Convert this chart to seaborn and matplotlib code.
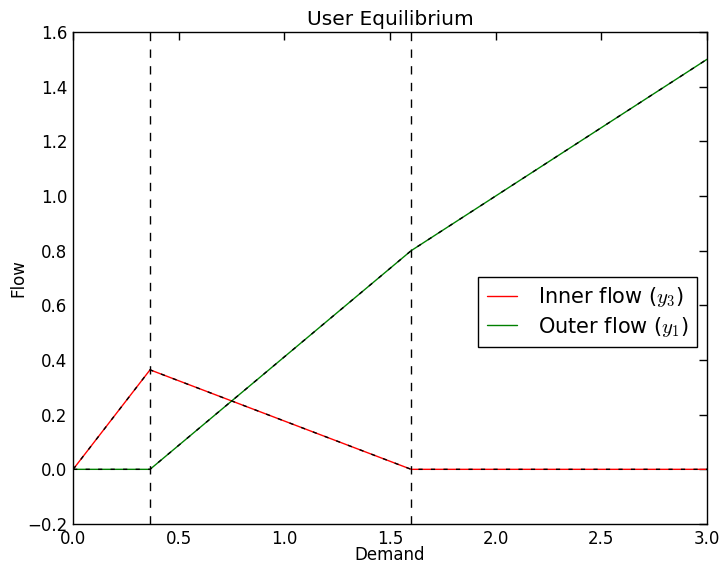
import matplotlib
matplotlib.use("Agg")
import matplotlib.pyplot as plt
import seaborn as sns
import pandas as pd

demand = [0.0, 0.364, 1.6, 3.0]
inner_flow = [0.0, 0.364, 0.0, 0.0]
outer_flow = [0.0, 0.0, 0.8, 1.5]
breakpoints = [0.364, 1.6]

sns.set_style("white")
plt.rcParams['font.family'] = ['DejaVu Sans']
plt.rcParams['mathtext.fontset'] = 'cm'
plt.rcParams['text.color'] = 'black'
plt.rcParams['axes.labelcolor'] = 'black'
plt.rcParams['xtick.color'] = 'black'
plt.rcParams['ytick.color'] = 'black'

df = pd.DataFrame({"Demand": demand, "inner": inner_flow, "outer": outer_flow})

fig = plt.figure(figsize=(7.24, 5.66), dpi=100)
ax = fig.add_axes([0.101, 0.0742, 0.8755, 0.8693])

sns.lineplot(data=df, x="Demand", y="inner", ax=ax, color="red", lw=1.0,
             label=r"Inner flow ($y_3$)")
sns.lineplot(data=df, x="Demand", y="outer", ax=ax, color="green", lw=1.0,
             label=r"Outer flow ($y_1$)")
sns.lineplot(data=df, x="Demand", y="inner", ax=ax, color="black", lw=1.0,
             linestyle=(0, (3, 6)), legend=False)
sns.lineplot(data=df, x="Demand", y="outer", ax=ax, color="black", lw=1.0,
             linestyle=(0, (3, 6)), legend=False)
for b in breakpoints:
    ax.axvline(b, color="black", lw=1.0, linestyle=(0, (6, 6)))

ax.set_xlim(0, 3.0)
ax.set_ylim(-0.2, 1.6)
ax.set_xticks([0.0, 0.5, 1.0, 1.5, 2.0, 2.5, 3.0])
ax.set_yticks([-0.2, 0.0, 0.2, 0.4, 0.6, 0.8, 1.0, 1.2, 1.4, 1.6])
ax.tick_params(direction="in", top=True, right=True, length=6, width=1,
               labelsize=12, pad=4, color="black", labelcolor="black")
for s in ax.spines.values():
    s.set_color("black")
    s.set_linewidth(1.0)
ax.set_xlabel("Demand", fontsize=12, labelpad=-1)
ax.set_ylabel("Flow", fontsize=12, labelpad=0)
ax.set_title("User Equilibrium", fontsize=14.5, pad=5)

leg = ax.legend(loc="center right", bbox_to_anchor=(0.984, 0.431), fontsize=15,
                fancybox=False, framealpha=1, edgecolor="black",
                handlelength=1.45, handletextpad=1.0, borderpad=0.4,
                labelspacing=0.25, borderaxespad=0)
leg.get_frame().set_linewidth(1.0)

fig.savefig("out.png", dpi=100)
